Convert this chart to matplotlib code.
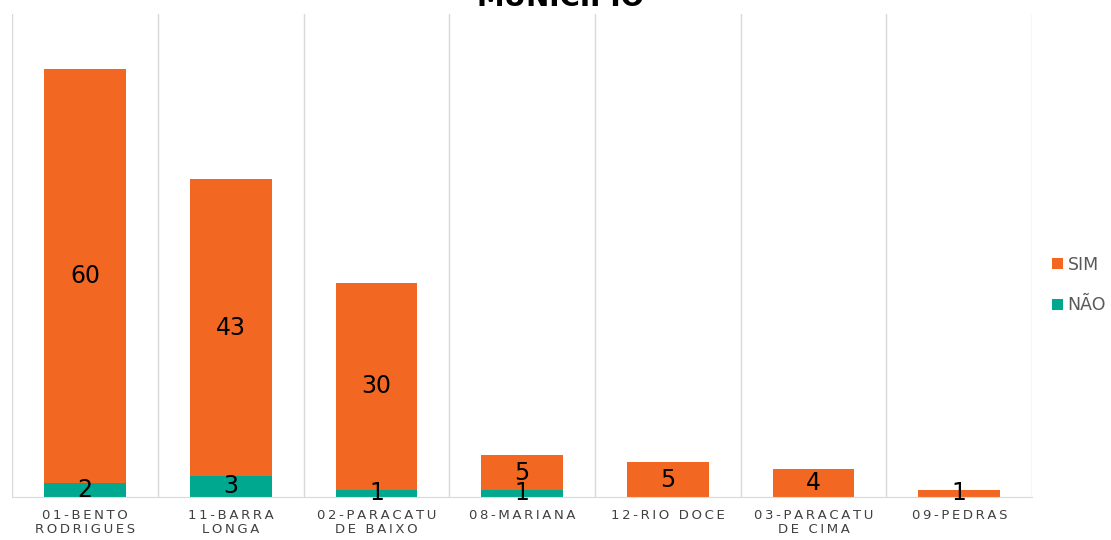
import matplotlib.pyplot as plt
import numpy as np

# dados por municipio
municipios = ['01-BENTO\nRODRIGUES', '11-BARRA\nLONGA', '02-PARACATU\nDE BAIXO',
              '08-MARIANA', '12-RIO DOCE', '03-PARACATU\nDE CIMA', '09-PEDRAS']
nao = [2, 3, 1, 1, 0, 0, 0]
sim = [60, 43, 30, 5, 5, 4, 1]

cor_sim = '#F26722'
cor_nao = '#00A88F'

def espaca(txt):
    # letras espacadas como no excel
    return '\n'.join('\u2009'.join(list(l)) for l in txt.split('\n'))

fig = plt.figure(figsize=(11.11, 5.4), dpi=100)
ax = fig.add_axes([0.011, 0.08, 0.918, 0.895])

x = np.arange(len(municipios))
w = 0.56
ax.bar(x, nao, w, color=cor_nao, label='NÃO')
ax.bar(x, sim, w, bottom=nao, color=cor_sim, label='SIM')

for i in range(len(x)):
    if nao[i] > 0:
        ax.text(x[i], nao[i] / 2, str(nao[i]), ha='center', va='center', fontsize=17, color='black')
    ax.text(x[i], nao[i] + sim[i] / 2, str(sim[i]), ha='center', va='center', fontsize=17, color='black')

ax.set_xlim(-0.5, len(x) - 0.5)
ax.set_ylim(0, 70)
for b in np.arange(-0.5, len(x), 1):
    ax.axvline(b, color='#D9D9D9', lw=1, zorder=0)
for s in ['top', 'right', 'left']:
    ax.spines[s].set_visible(False)
ax.spines['bottom'].set_color('#D9D9D9')
ax.set_yticks([])
ax.set_xticks(x)
ax.set_xticklabels([espaca(m) for m in municipios], fontsize=9.5, color='#404040', linespacing=1.1)
ax.tick_params(axis='x', length=0, pad=9)

h, l = ax.get_legend_handles_labels()
fig.legend(h[::-1], l[::-1], loc='center left', bbox_to_anchor=(0.947, 0.472), frameon=False,
           fontsize=12.5, labelcolor='#595959', handlelength=0.6, handleheight=0.6,
           handletextpad=0.3, labelspacing=1.3, borderaxespad=0, borderpad=0)

fig.text(0.505, 1.003, 'MUNICÍPIO', ha='center', va='center', fontsize=20, fontweight='bold', color='black')

fig.savefig('out.png', dpi=100)
